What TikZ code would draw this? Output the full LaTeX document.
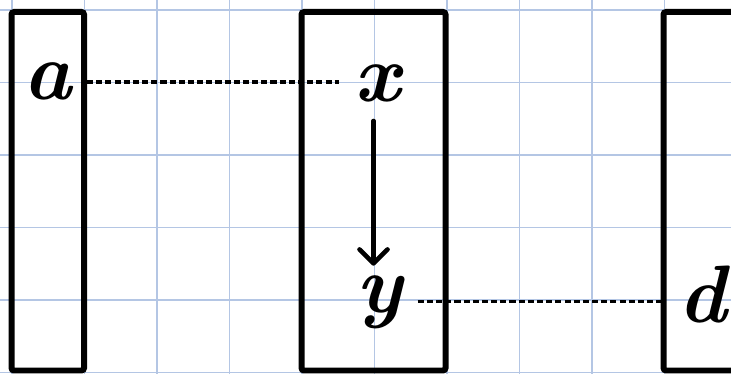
\documentclass[tikz,border=0pt]{standalone}
\usepackage{fontspec}
\usetikzlibrary{arrows.meta}
\definecolor{gridblue}{RGB}{180,198,228}
\begin{document}
\begin{tikzpicture}[x=1cm,y=1cm,
  box/.style={draw, line width=2.35pt, rounded corners=1pt, inner sep=0pt},
  letter/.style={inner xsep=6pt, inner ysep=0pt, anchor=base, font=\fontsize{32}{32}\selectfont\bfseries\itshape},
  dashline/.style={line width=1.3pt, dash pattern=on 2.4pt off 1.2pt},
  arr/.style={line width=1.8pt, line cap=round, -{Straight Barb[length=5.5pt,width=11pt,round]}}]
\useasboundingbox (0,0) rectangle (10.0828,5.1448);
\clip (0,0) rectangle (10.0828,5.1448);
\draw[gridblue, line width=0.5pt, shift={(0.1655,0.0069)}] (-1,-1) grid (11,6);
% boxes
\node[box, minimum width=1cm, minimum height=4.945cm] (boxA) at (0.659,2.507) {};
\node[box, minimum width=1.986cm, minimum height=4.945cm] (boxX) at (5.152,2.507) {};
\node[box, minimum width=1.548cm, minimum height=4.945cm] (boxD) at (9.926,2.507) {};
% letters
\node[letter] (a) at (0.65,3.766) {a};
\node[letter] (x) at (5.207,3.738) {x};
\node[letter] (y) at (5.228,0.841) {y};
\node[letter] (d) at (9.69,0.703) {d};
% connectors
\draw[dashline] (a -| boxA.east) -- (a -| x.west);
\draw[dashline] (y.east) -- (y.east -| boxD.west);
\path (x.south -| boxX.center) ++(0,-7pt) coordinate (arS);
\path (y.north -| boxX.center) ++(0,3.5pt) coordinate (arE);
\draw[arr] (arS) -- (arE);
\end{tikzpicture}
\end{document}
